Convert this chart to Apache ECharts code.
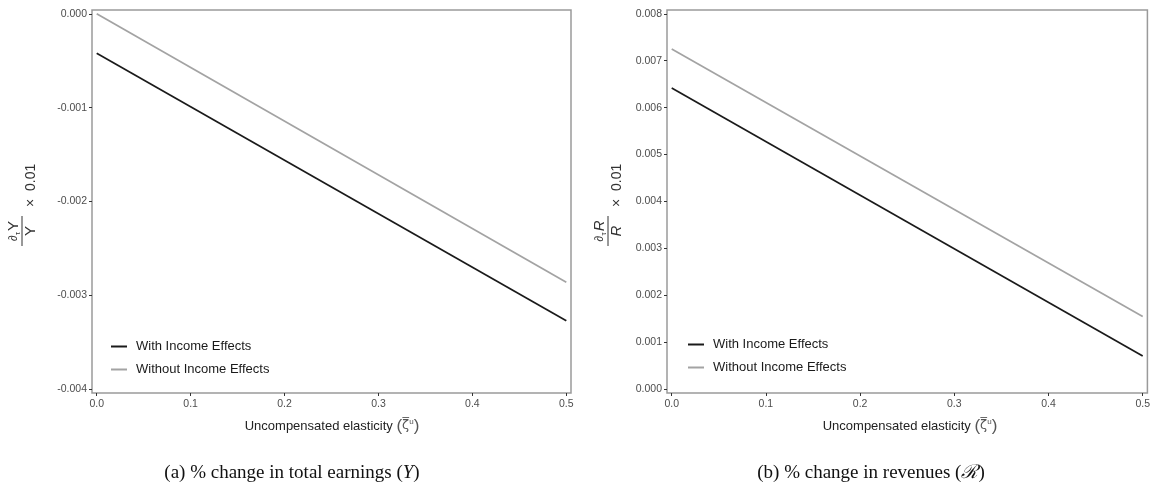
<!DOCTYPE html>
<html>
<head>
<meta charset="utf-8">
<script src="https://cdn.jsdelivr.net/npm/echarts@6/dist/echarts.min.js"></script>
<style>
html,body{margin:0;padding:0;background:#fff;}
#chart{width:1153px;height:487px;}
</style>
</head>
<body>
<div id="chart"></div>
<script>
// ---- data ----
const xValues = [0, 0.5];
const earningsWith = [-0.00042, -0.00327];
const earningsWithout = [0.0, -0.00286];
const revenueWith = [0.00642, 0.00071];
const revenueWithout = [0.00725, 0.00155];
const xTicks = [0, 0.1, 0.2, 0.3, 0.4, 0.5];
const yTicksLeft = [0, -0.001, -0.002, -0.003, -0.004];
const yTicksRight = [0, 0.001, 0.002, 0.003, 0.004, 0.005, 0.006, 0.007, 0.008];
const seriesNames = ['With Income Effects', 'Without Income Effects'];
const captions = ['(a) % change in total earnings (', '(b) % change in revenues ('];

const zip = (xs, ys) => xs.map((x, i) => [x, ys[i]]);

const SANS = '"Liberation Sans", Arial, Helvetica, sans-serif';
const SERIF = '"Liberation Serif", "DejaVu Serif", serif';
const BLACK = '#1a1a1a';
const GRAY = '#a3a3a3';

function xAxis(gridIndex) {
  return {
    type: 'value', gridIndex, min: -0.005, max: 0.505, position: 'bottom',
    axisLine: {show: false, onZero: false},
    splitLine: {show: false},
    axisTick: {show: true, inside: false, customValues: xTicks, length: 3, lineStyle: {color: '#333', width: 1}},
    axisLabel: {customValues: xTicks, formatter: v => v.toFixed(1), color: '#4d4d4d',
      fontFamily: SANS, fontSize: 10.5, margin: 6}
  };
}
function yAxis(gridIndex, ticks, min, max) {
  return {
    type: 'value', gridIndex, min, max, position: 'left',
    axisLine: {show: false, onZero: false},
    splitLine: {show: false},
    axisTick: {show: true, inside: false, customValues: ticks, length: 3, lineStyle: {color: '#333', width: 1}},
    axisLabel: {customValues: ticks, formatter: v => (Math.abs(v) < 1e-12 ? 0 : v).toFixed(3), color: '#4d4d4d',
      fontFamily: SANS, fontSize: 10.5, margin: 5}
  };
}
function lineSeries(name, xi, data, color) {
  return {
    type: 'line', name, xAxisIndex: xi, yAxisIndex: xi, data,
    showSymbol: false, symbol: 'none', animation: false,
    lineStyle: {color, width: 1.7}, itemStyle: {color}
  };
}
function legend(left, top) {
  return {
    orient: 'vertical', left, top, itemWidth: 16, itemHeight: 2, itemGap: 10,
    icon: 'rect', data: seriesNames,
    textStyle: {fontFamily: SANS, fontSize: 13, color: BLACK, padding: [0, 0, 0, 4]}
  };
}
function yTitle(cx, cy, letter, italic) {
  return {
    type: 'group', x: cx, y: cy, rotation: Math.PI / 2,
    children: [
      {type: 'line', shape: {x1: -15, y1: 0, x2: 15, y2: 0}, style: {stroke: '#333', lineWidth: 1}},
      {type: 'text', x: 0, y: -8, style: {
        text: '{d|∂}{t|τ}{y|' + letter + '}', align: 'center', verticalAlign: 'middle',
        rich: {
          d: {fontFamily: SANS, fontSize: 12, fill: '#333'},
          t: {fontFamily: SANS, fontSize: 8, fill: '#333', verticalAlign: 'bottom', padding: [6, 1, 0, 0]},
          y: {fontFamily: SANS, fontSize: 15, fill: '#333', fontStyle: italic ? 'italic' : 'normal'}
        }}},
      {type: 'text', x: 0, y: 9, style: {
        text: letter, align: 'center', verticalAlign: 'middle',
        fontFamily: SANS, fontSize: 15, fill: '#333', fontStyle: italic ? 'italic' : 'normal'}},
      {type: 'text', x: 24, y: 9, style: {
        text: '×  0.01', align: 'left', verticalAlign: 'middle',
        fontFamily: SANS, fontSize: 14, fill: '#333'}}
    ]
  };
}
function xTitle(cx, cy) {
  return {
    type: 'text', x: cx, y: cy, style: {
      text: '{a|Uncompensated elasticity }{p|(}{z|ζ̅}{u|u}{p|)}',
      align: 'center', verticalAlign: 'middle',
      rich: {
        a: {fontFamily: SANS, fontSize: 13, fill: '#222'},
        p: {fontFamily: SANS, fontSize: 17, fill: '#555'},
        z: {fontFamily: '"DejaVu Sans", sans-serif', fontSize: 13, fill: '#555'},
        u: {fontFamily: SANS, fontSize: 8, fill: '#555', verticalAlign: 'top', padding: [0, 0, 8, 0]}
      }}
  };
}
function caption(cx, cy, head, sym) {
  return {
    type: 'text', x: cx, y: cy, style: {
      text: '{a|' + head + '}{i|' + sym + '}{a|)}',
      align: 'center', verticalAlign: 'middle',
      rich: {
        a: {fontFamily: SERIF, fontSize: 19, fill: '#111'},
        i: {fontFamily: SERIF, fontSize: 19, fill: '#111', fontStyle: 'italic'}
      }}
  };
}

const chart = echarts.init(document.getElementById('chart'), null, {renderer: 'canvas'});
chart.setOption({
  backgroundColor: '#fff',
  animation: false,
  color: [BLACK, GRAY],
  grid: [
    {left: 92, top: 10, width: 479, height: 383, show: true, borderColor: '#9a9a9a', borderWidth: 1.5, backgroundColor: 'transparent', containLabel: false},
    {left: 667, top: 10, width: 482, height: 383, show: true, borderColor: '#9a9a9a', borderWidth: 1.5, backgroundColor: 'transparent', containLabel: false}
  ],
  xAxis: [xAxis(0), xAxis(1)],
  yAxis: [yAxis(0, yTicksLeft, -0.00404, 0.00004), yAxis(1, yTicksRight, -0.00008, 0.00808)],
  legend: [legend(106, 335), legend(683, 333)],
  series: [
    lineSeries(seriesNames[0], 0, zip(xValues, earningsWith), BLACK),
    lineSeries(seriesNames[1], 0, zip(xValues, earningsWithout), GRAY),
    lineSeries(seriesNames[0], 1, zip(xValues, revenueWith), BLACK),
    lineSeries(seriesNames[1], 1, zip(xValues, revenueWithout), GRAY)
  ],
  graphic: [
    yTitle(22, 231, 'Y', false),
    yTitle(608, 231, 'R', true),
    xTitle(332, 426),
    xTitle(910, 426),
    caption(292, 473, captions[0], 'Y'),
    caption(871, 473, captions[1], 'ℛ')
  ]
});
</script>
</body>
</html>
